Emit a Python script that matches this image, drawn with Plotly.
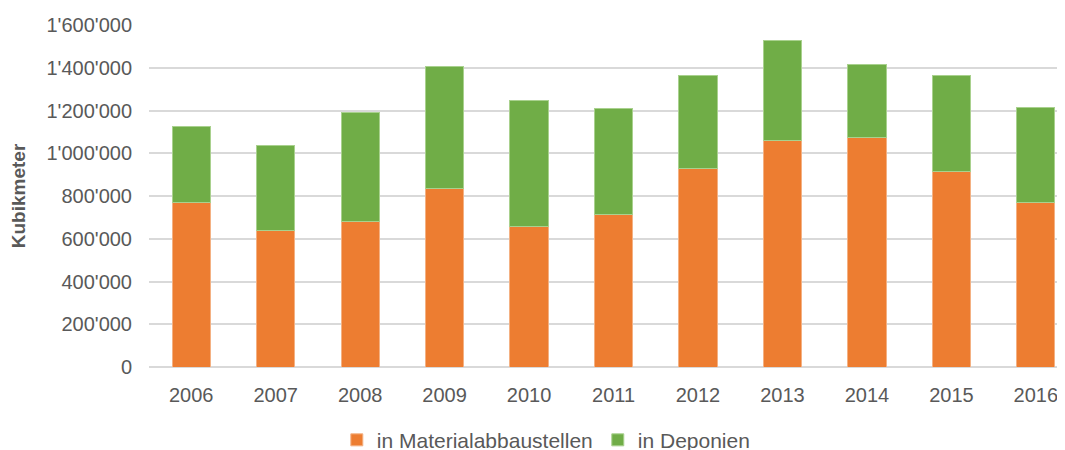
import plotly.graph_objects as go

years = ["2006", "2007", "2008", "2009", "2010", "2011", "2012", "2013", "2014", "2015", "2016"]
abbau = [771000, 638000, 682000, 835000, 657000, 712000, 930000, 1059000, 1075000, 913000, 771000]
total = [1126000, 1036000, 1190000, 1407000, 1245000, 1209000, 1365000, 1528000, 1413000, 1366000, 1215000]
deponien = [t - a for t, a in zip(total, abbau)]

grey = "#595959"
font = dict(family="Liberation Sans, Arial, sans-serif", size=20, color=grey)

fig = go.Figure()
fig.add_bar(x=years, y=abbau, name="in Materialabbaustellen",
            marker=dict(color="#ED7D31", line=dict(color="#F4B183", width=1)))
fig.add_bar(x=years, y=deponien, name="in Deponien",
            marker=dict(color="#70AD47", line=dict(color="#A9D18E", width=1)))

fig.update_layout(
    barmode="stack",
    bargap=0.547,
    width=1065, height=450,
    margin=dict(l=141, r=0, t=17, b=91, autoexpand=False),
    paper_bgcolor="white", plot_bgcolor="white",
    font=font,
    separators=".'",
    legend=dict(orientation="h", traceorder="normal", x=0.43, xanchor="center",
                y=-0.274, yanchor="bottom", font=dict(size=21, color=grey),
                itemwidth=30, itemclick=False),
)
# the chart in the reference runs past the right edge of the window
fig.update_xaxes(showgrid=False, ticks="", showline=False, ticklabelstandoff=14,
                 range=[-0.5, 10.44])
fig.update_yaxes(range=[0, 1600000], dtick=200000, tickformat=",d",
                 gridcolor="#d9d9d9", gridwidth=1.5, zeroline=True, zerolinecolor="#d9d9d9",
                 zerolinewidth=1.5, ticks="", ticklabelstandoff=16,
                 title=dict(text="<b>Kubikmeter</b>", font=dict(size=19, color=grey), standoff=15))

fig.write_html("out.html")
